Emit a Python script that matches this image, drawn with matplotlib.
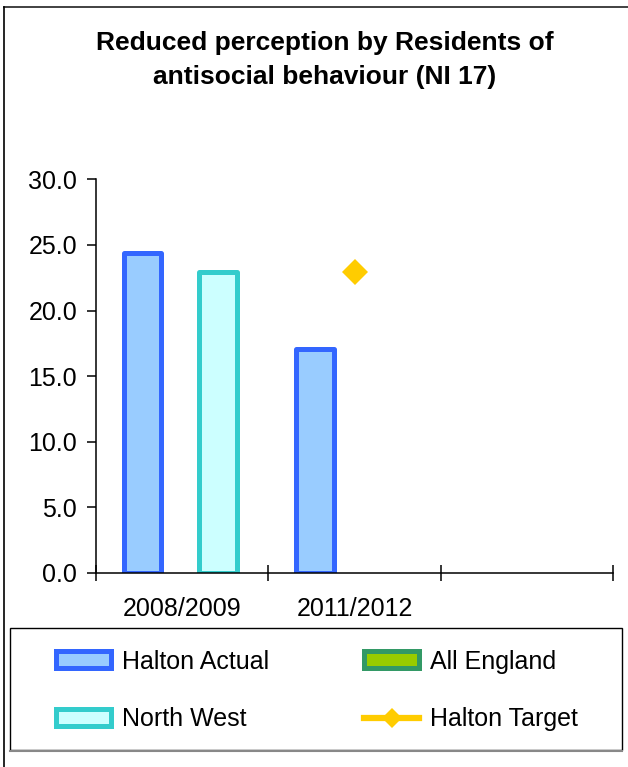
import numpy as np
import matplotlib
matplotlib.use('Agg')
import matplotlib.pyplot as plt
from matplotlib.patches import Rectangle
from matplotlib.lines import Line2D

plt.rcParams['font.family'] = ['Liberation Sans', 'DejaVu Sans']

# data
categories = ['2008/2009', '2011/2012', '']
halton_actual = [24.4, 17.1, np.nan]
north_west = [22.9, np.nan, np.nan]
all_england = [np.nan, np.nan, np.nan]
halton_target = [np.nan, 22.9, np.nan]
y_ticks = [0, 5, 10, 15, 20, 25, 30]

W, H = 628, 767
fig = plt.figure(figsize=(W/100, H/100), dpi=100)
ax = fig.add_axes([96/W, 1-573/H, (613-96)/W, (573-179.3)/H])

x = np.arange(len(categories))
bw = 0.22
ax.bar(x - 0.23, halton_actual, bw, facecolor='#99CCFF', edgecolor='#3366FF',
       linewidth=3.6, joinstyle='round', zorder=3)
ax.bar(x + 0.21, north_west, bw, facecolor='#CCFFFF', edgecolor='#33CCCC',
       linewidth=3.6, joinstyle='round', zorder=3)
ax.plot(x, halton_target, linestyle='none', marker='D', markersize=13,
        color='#FFCC00', markeredgewidth=0, zorder=4)

ax.set_xlim(-0.5, 2.5)
ax.set_ylim(0, 30)
ax.set_yticks(y_ticks)
ax.set_yticklabels(['%.1f' % v for v in y_ticks])
ax.set_xticks(np.arange(-0.5, 3, 1))
ax.set_xticklabels([])
ax.set_xticks(x, minor=True)
ax.set_xticklabels(categories, minor=True)
ax.tick_params(axis='x', which='major', direction='inout', length=11.5, width=1.1)
ax.tick_params(axis='x', which='minor', length=0, pad=17, labelsize=18)
ax.tick_params(axis='y', direction='out', length=6.5, width=1.1, pad=7, labelsize=18)
for s in ['top', 'right']:
    ax.spines[s].set_visible(False)
for s in ['left', 'bottom']:
    ax.spines[s].set_linewidth(1.1)
    ax.spines[s].set_zorder(5)

fig.text(325/W, 1-60/H, 'Reduced perception by Residents of\nantisocial behaviour (NI 17)',
         ha='center', va='center', fontsize=19, fontweight='bold', linespacing=1.5)

# chart area border
fig.add_artist(Line2D([4/W, 1], [1-6.5/H, 1-6.5/H], color='#333333', lw=1.3,
                      transform=fig.transFigure))
fig.add_artist(Line2D([4/W, 4/W], [0, 1-6.5/H], color='black', lw=1.2,
                      transform=fig.transFigure))

# legend box
fig.add_artist(Rectangle((10/W, 1-750/H), 612/W, 122/H, transform=fig.transFigure,
                         facecolor='white', edgecolor='black', lw=1.0, zorder=1))
fig.add_artist(Line2D([10/W, 622/W], [1-750.5/H, 1-750.5/H], color='#888888', lw=1.5,
                      transform=fig.transFigure, zorder=2))

handles = [
    Rectangle((0, 0), 1, 1, facecolor='#99CCFF', edgecolor='#3366FF', lw=3.6, joinstyle='round'),
    Rectangle((0, 0), 1, 1, facecolor='#CCFFFF', edgecolor='#33CCCC', lw=3.6, joinstyle='round'),
    Rectangle((0, 0), 1, 1, facecolor='#99CC00', edgecolor='#339966', lw=3.6, joinstyle='round'),
    Line2D([], [], color='#FFCC00', lw=4.5, marker='D', markersize=10, markeredgewidth=0),
]
labels = ['Halton Actual', 'North West', 'All England', 'Halton Target']
leg = fig.legend(handles, labels, loc='center', bbox_to_anchor=(317/W, 1-690.5/H),
                 ncol=2, frameon=False, fontsize=18, borderpad=0,
                 handlelength=2.2, handleheight=0.66, handletextpad=0.45,
                 columnspacing=3.8, labelspacing=1.35)
leg.set_zorder(3)

fig.savefig('out.png', dpi=100)
